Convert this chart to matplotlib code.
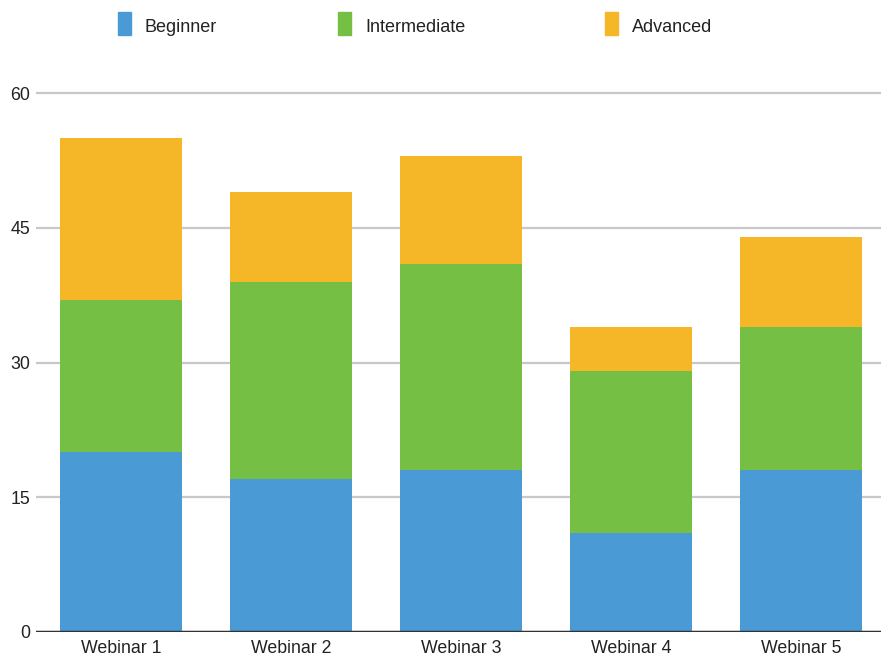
import numpy as np
import matplotlib.pyplot as plt
from matplotlib.patches import Rectangle

plt.rcParams['font.family'] = ['Liberation Sans', 'DejaVu Sans']

webinars = ['Webinar 1', 'Webinar 2', 'Webinar 3', 'Webinar 4', 'Webinar 5']
beginner = [20, 17, 18, 11, 18]
intermediate = [17, 22, 23, 18, 16]
advanced = [18, 10, 12, 5, 10]
series_names = ['Beginner', 'Intermediate', 'Advanced']

c_beg = '#4a9bd5'
c_int = '#76bf45'
c_adv = '#f5b728'
colors = [c_beg, c_int, c_adv]

W, H = 881, 659
fig = plt.figure(figsize=(W / 100, H / 100), dpi=100)
# y=0 at px 632, y=60 at px 93
y0, y60 = 632, 93
top_val = 60.3
top_px = y0 - (y0 - y60) * top_val / 60
ax = fig.add_axes([36 / W, 1 - y0 / H, 1 - 36 / W, (y0 - top_px) / H])

x = np.arange(len(webinars))
b = np.array(beginner)
i = np.array(intermediate)
a = np.array(advanced)
w = 0.72
ax.bar(x, b, w, color=c_beg, zorder=3)
ax.bar(x, i, w, bottom=b, color=c_int, zorder=3)
ax.bar(x, a, w, bottom=b + i, color=c_adv, zorder=3)

ax.set_xlim(-0.5, 4.47)
ax.set_ylim(0, top_val)
ax.set_yticks([0, 15, 30, 45, 60])
ax.yaxis.grid(True, color='#c8c8c8', linewidth=1.6, zorder=0)
ax.axhline(0, color='#333333', linewidth=2.5, zorder=4)
for s in ax.spines.values():
    s.set_visible(False)
ax.set_xticks(x)
ax.set_xticklabels(webinars, fontsize=12.8, color='#222222')
ax.tick_params(axis='x', length=0, pad=6)
ax.tick_params(axis='y', length=0, pad=4, labelsize=12.8, labelcolor='#222222')

# legend across the top
leg_x = [118, 338, 605]
for name, col, px in zip(series_names, colors, leg_x):
    fig.add_artist(Rectangle((px / W, 1 - 35 / H), 13 / W, 23 / H,
                             transform=fig.transFigure, color=col))
    fig.text((px + 27) / W, 1 - 27 / H, name, fontsize=13, color='#222222',
             va='center', ha='left')

fig.savefig('out.png', dpi=100)
